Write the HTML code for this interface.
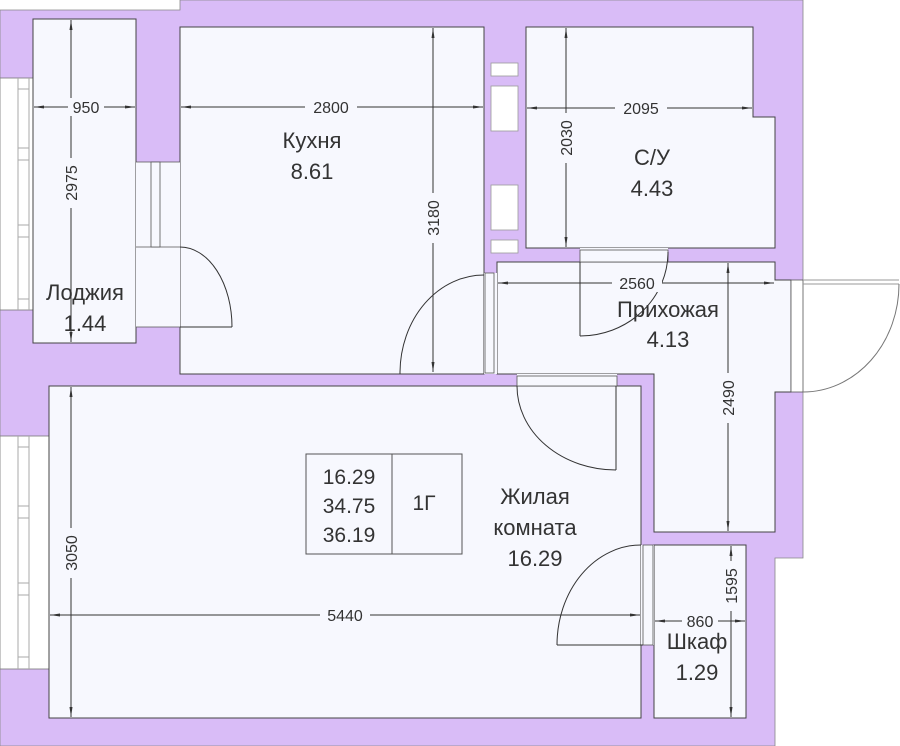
<!DOCTYPE html>
<html><head><meta charset="utf-8"><style>
html,body{margin:0;padding:0;background:#fff;}
svg{display:block;}
text{font-family:"Liberation Sans","DejaVu Sans",sans-serif;fill:#333;}
</style></head><body>
<svg width="900" height="746" viewBox="0 0 900 746" xmlns="http://www.w3.org/2000/svg">
<defs>
<marker id="a" viewBox="0 0 10 6" refX="10" refY="3" markerWidth="10" markerHeight="6" orient="auto-start-reverse" markerUnits="userSpaceOnUse">
<path d="M0,1.5 L10,3 L0,4.5 Z" fill="#333"/></marker>
</defs>
<polygon points="0,10 180,10 180,0 803,0 803,558 775,558 775,746 0,746" fill="#d9bcf7" stroke="#888" stroke-width="0.8"/>
<rect x="0" y="78" width="33" height="232" fill="#fff" stroke="#777" stroke-width="0.8"/>
<g stroke="#aaa" stroke-width="1" fill="none">
<line x1="18" y1="78" x2="18" y2="310"/><line x1="29" y1="78" x2="29" y2="310"/>
<line x1="18" y1="89" x2="29" y2="89"/><line x1="18" y1="148" x2="29" y2="148"/><line x1="18" y1="160" x2="29" y2="160"/>
<line x1="18" y1="225" x2="29" y2="225"/><line x1="18" y1="237" x2="29" y2="237"/><line x1="18" y1="299" x2="29" y2="299"/>
</g>
<rect x="0" y="436" width="49" height="233" fill="#fff" stroke="#777" stroke-width="0.8"/>
<g stroke="#aaa" stroke-width="1" fill="none">
<line x1="18" y1="436" x2="18" y2="669"/><line x1="29" y1="436" x2="29" y2="669"/>
<line x1="18" y1="447" x2="29" y2="447"/><line x1="18" y1="506" x2="29" y2="506"/><line x1="18" y1="518" x2="29" y2="518"/>
<line x1="18" y1="583" x2="29" y2="583"/><line x1="18" y1="595" x2="29" y2="595"/><line x1="18" y1="657" x2="29" y2="657"/>
</g>
<rect x="791" y="280" width="13" height="112" fill="#fff"/>
<g fill="#f7f8fe" stroke="#444" stroke-width="1">
<rect x="33" y="19" width="103" height="324"/>
<rect x="180" y="27" width="304" height="347"/>
<polygon points="526,27 753,27 753,117 775,117 775,248 526,248"/>
<polygon points="497,262 775,262 775,280 791,280 791,392 775,392 775,532 654,532 654,374 497,374"/>
<rect x="49" y="386" width="592" height="332"/>
<rect x="654" y="545" width="92" height="173"/>
</g>
<g fill="#f7f8fe" stroke="#555" stroke-width="0.8">
<rect x="136" y="162" width="44" height="165" stroke="none"/>
<line x1="136" y1="162" x2="180" y2="162"/><line x1="136" y1="247" x2="180" y2="247"/><line x1="136" y1="327" x2="180" y2="327"/>
<rect x="151" y="162" width="9" height="85" fill="#f7f8fe"/>
<rect x="484" y="273" width="13" height="101" stroke="none"/>
<rect x="485" y="273" width="9" height="100"/>
<rect x="580" y="248" width="88" height="14" stroke="none"/>
<rect x="580" y="250" width="88" height="12"/>
<rect x="517" y="374" width="100" height="12" stroke="none"/>
<rect x="517" y="376" width="100" height="10"/>
<rect x="641" y="545" width="13" height="100" stroke="none"/>
<rect x="643" y="545" width="10" height="100"/>
<rect x="791" y="280" width="12" height="112" fill="#fff"/>
</g>
<g fill="#fff" stroke="#999" stroke-width="0.8">
<rect x="491" y="63" width="27" height="13"/><rect x="491" y="86" width="27" height="45"/>
<rect x="491" y="185" width="27" height="45"/><rect x="491" y="240" width="27" height="13"/>
</g>
<g fill="none" stroke="#333" stroke-width="1">
<path d="M180,247 A52,80 0 0 1 232,327"/><line x1="180" y1="327" x2="232" y2="327"/>
<path d="M484,275 A84,98 0 0 0 400,372"/><line x1="400" y1="372" x2="400" y2="374"/>
<line x1="580" y1="262" x2="580" y2="336"/><path d="M668,252 A88,84 0 0 1 580,336"/>
<line x1="616" y1="386" x2="616" y2="470"/><path d="M517,386 A99,84 0 0 0 616,470"/>
<line x1="557" y1="645" x2="643" y2="645"/><path d="M641,545 A84,100 0 0 0 557,645"/>
<line x1="803" y1="280" x2="899" y2="280" stroke="#999"/><line x1="803" y1="284" x2="899" y2="284" stroke="#999"/>
<path d="M899,284 A96,108 0 0 1 803,392" stroke="#777"/>
</g>
<g stroke="#333" stroke-width="1" fill="none" marker-start="url(#a)" marker-end="url(#a)">
<line x1="34" y1="107" x2="135" y2="107"/>
<line x1="71" y1="20" x2="71" y2="342"/>
<line x1="181" y1="107" x2="483" y2="107"/>
<line x1="433" y1="28" x2="433" y2="372"/>
<line x1="527" y1="108" x2="752" y2="108"/>
<line x1="566" y1="28" x2="566" y2="247"/>
<line x1="498" y1="283" x2="774" y2="283"/>
<line x1="728" y1="263" x2="728" y2="531"/>
<line x1="71" y1="387" x2="71" y2="717"/>
<line x1="50" y1="615" x2="640" y2="615"/>
<line x1="731" y1="546" x2="731" y2="717"/>
<line x1="655" y1="621" x2="745" y2="621"/>
</g>
<g font-size="16" text-anchor="middle">
<rect x="68" y="98" width="36" height="18" fill="#f7f8fe"/><text x="86" y="113">950</text>
<rect x="305" y="98" width="52" height="18" fill="#f7f8fe"/><text x="331" y="113">2800</text>
<rect x="615" y="99" width="52" height="18" fill="#f7f8fe"/><text x="641" y="114">2095</text>
<rect x="612" y="274" width="50" height="18" fill="#f7f8fe"/><text x="637" y="289">2560</text>
<rect x="320" y="606" width="50" height="18" fill="#f7f8fe"/><text x="345" y="621">5440</text>
<rect x="682" y="612" width="36" height="18" fill="#f7f8fe"/><text x="700" y="627">860</text>
<rect x="62" y="158" width="18" height="50" fill="#f7f8fe"/><text transform="translate(77,183) rotate(-90)">2975</text>
<rect x="424" y="193" width="18" height="50" fill="#f7f8fe"/><text transform="translate(439,218) rotate(-90)">3180</text>
<rect x="557" y="113" width="18" height="50" fill="#f7f8fe"/><text transform="translate(572,138) rotate(-90)">2030</text>
<rect x="719" y="373" width="18" height="50" fill="#f7f8fe"/><text transform="translate(734,398) rotate(-90)">2490</text>
<rect x="62" y="528" width="18" height="50" fill="#f7f8fe"/><text transform="translate(77,553) rotate(-90)">3050</text>
<rect x="722" y="561" width="18" height="50" fill="#f7f8fe"/><text transform="translate(737,586) rotate(-90)">1595</text>
</g>
<g font-size="22" text-anchor="middle">
<text x="312" y="148">Кухня</text><text x="312" y="179">8.61</text>
<text x="85" y="300">Лоджия</text><text x="85" y="331">1.44</text>
<text x="652" y="165">С/У</text><text x="652" y="196">4.43</text>
<text x="668" y="317">Прихожая</text><text x="668" y="347">4.13</text>
<text x="535" y="504">Жилая</text><text x="535" y="535">комната</text><text x="535" y="566">16.29</text>
<text x="697" y="649">Шкаф</text><text x="697" y="680">1.29</text>
</g>
<g fill="none" stroke="#555" stroke-width="1">
<rect x="306" y="454" width="156" height="100"/><line x1="392" y1="454" x2="392" y2="554"/>
</g>
<g font-size="21" text-anchor="middle">
<text x="349" y="484">16.29</text><text x="349" y="513">34.75</text><text x="349" y="542">36.19</text>
<text x="424" y="510">1Г</text>
</g>
</svg>
</body></html>
